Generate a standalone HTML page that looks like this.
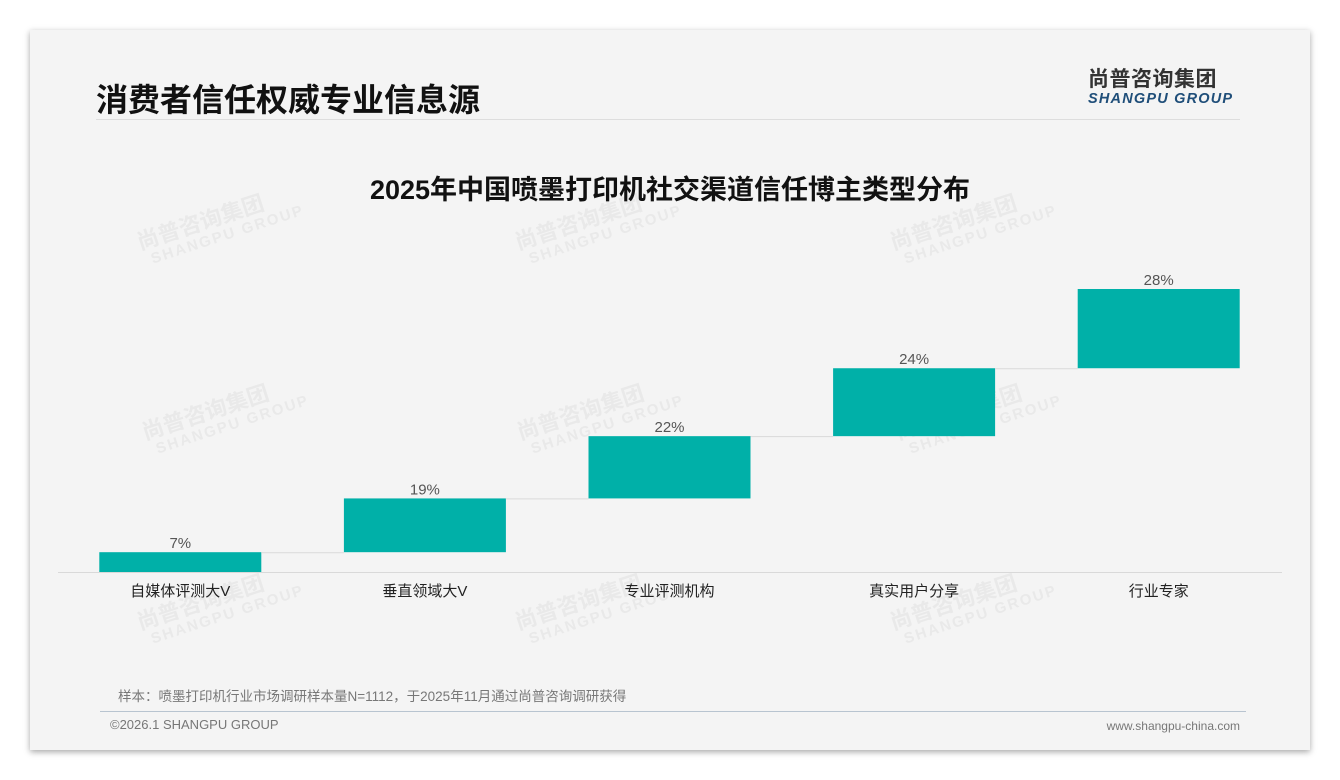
<!DOCTYPE html>
<html><head><meta charset="utf-8"><style>
body{margin:0;width:1340px;height:780px;background:#fff;font-family:"Liberation Sans","Noto Sans CJK SC",sans-serif;overflow:hidden;position:relative}
#card{position:absolute;left:30px;top:30px;width:1280px;height:720px;background:#f4f4f4;box-shadow:0 2px 6px rgba(0,0,0,.35)}
</style></head><body>
<div id="card"></div>
<div style="position:absolute;left:96px;top:75px;font-size:32px;font-weight:bold;color:#111;font-family:'Liberation Sans','Noto Sans CJK SC',sans-serif">消费者信任权威专业信息源</div>
<div style="position:absolute;left:96px;top:119px;width:1144px;height:1px;background:#ddd"></div>
<div style="position:absolute;left:1088px;top:63px;text-align:left">
<div style="font-size:21px;font-weight:bold;color:#333;letter-spacing:0.5px">尚普咨询集团</div>
<div style="font-size:14.5px;font-weight:bold;font-style:italic;color:#1f4e79;letter-spacing:1.2px;margin-top:-2px">SHANGPU GROUP</div></div>
<svg width="1340" height="780" style="position:absolute;left:0;top:0">
<g id="wm" fill="#e9e9e9" font-weight="bold"></g>
<text x="670" y="199" text-anchor="middle" font-size="27" font-weight="bold" fill="#111">2025年中国喷墨打印机社交渠道信任博主类型分布</text>
<line x1="58" x2="1282" y1="572.5" y2="572.5" stroke="#d9d9d9"/>
<g id="marks"></g>
<text x="118" y="701" font-size="13.5" fill="#777">样本：喷墨打印机行业市场调研样本量N=1112，于2025年11月通过尚普咨询调研获得</text>
<line x1="100" x2="1246" y1="711.5" y2="711.5" stroke="#b8c4d0"/>
<text x="110" y="729" font-size="13" fill="#777">©2026.1 SHANGPU GROUP</text>
<text x="1240" y="730" font-size="12" fill="#777" text-anchor="end">www.shangpu-china.com</text>
</svg>
<script>
const categories=["自媒体评测大V","垂直领域大V","专业评测机构","真实用户分享","行业专家"];
const values=[7,19,22,24,28];
const labels=["7%","19%","22%","24%","28%"];
const ns="http://www.w3.org/2000/svg";
const base=572,scale=2.83,left=58,step=244.6,bw=162;
const y=v=>base-v*scale;
const xc=i=>left+step*(i+0.5);
const g=document.getElementById('marks');
function mk(t,a){const e=document.createElementNS(ns,t);for(const k in a)e.setAttribute(k,a[k]);return e;}
let cum=0;
values.forEach((v,i)=>{
 const y0=y(cum),y1=y(cum+v);
 const r=mk('rect',{x:xc(i)-bw/2,y:y1,width:bw,height:y0-y1,fill:'#00b0a8'});
 
 
 g.appendChild(r);
 if(i<values.length-1){
  const l=mk('line',{x1:xc(i)+bw/2,x2:xc(i+1)-bw/2,y1:y1+0.5,y2:y1+0.5,stroke:'#d9d9d9'});
  
  
  g.appendChild(l);
 }
 const t=mk('text',{x:xc(i),y:y1-4,'text-anchor':'middle','font-size':15,fill:'#555'});
 t.textContent=labels[i];
 
 
 g.appendChild(t);
 const c=mk('text',{x:xc(i),y:596,'text-anchor':'middle','font-size':15,fill:'#222'});
 c.textContent=categories[i];
 
 
 g.appendChild(c);
 cum+=v;
});
const wm=document.getElementById('wm');
[[140,250],[518,250],[893,250],[145,440],[520,440],[898,440],[140,630],[518,630],[893,630]].forEach(p=>{
 const a=mk('text',{x:p[0],y:p[1],'font-size':22,transform:`rotate(-18 ${p[0]} ${p[1]})`});
 a.textContent='尚普咨询集团';
 
 
 wm.appendChild(a);
 const b=mk('text',{x:p[0]+8,y:p[1]+17,'font-size':15,'letter-spacing':2,transform:`rotate(-18 ${p[0]} ${p[1]})`});
 b.textContent='SHANGPU GROUP';
 
 
 wm.appendChild(b);
});
</script>
</body></html>
